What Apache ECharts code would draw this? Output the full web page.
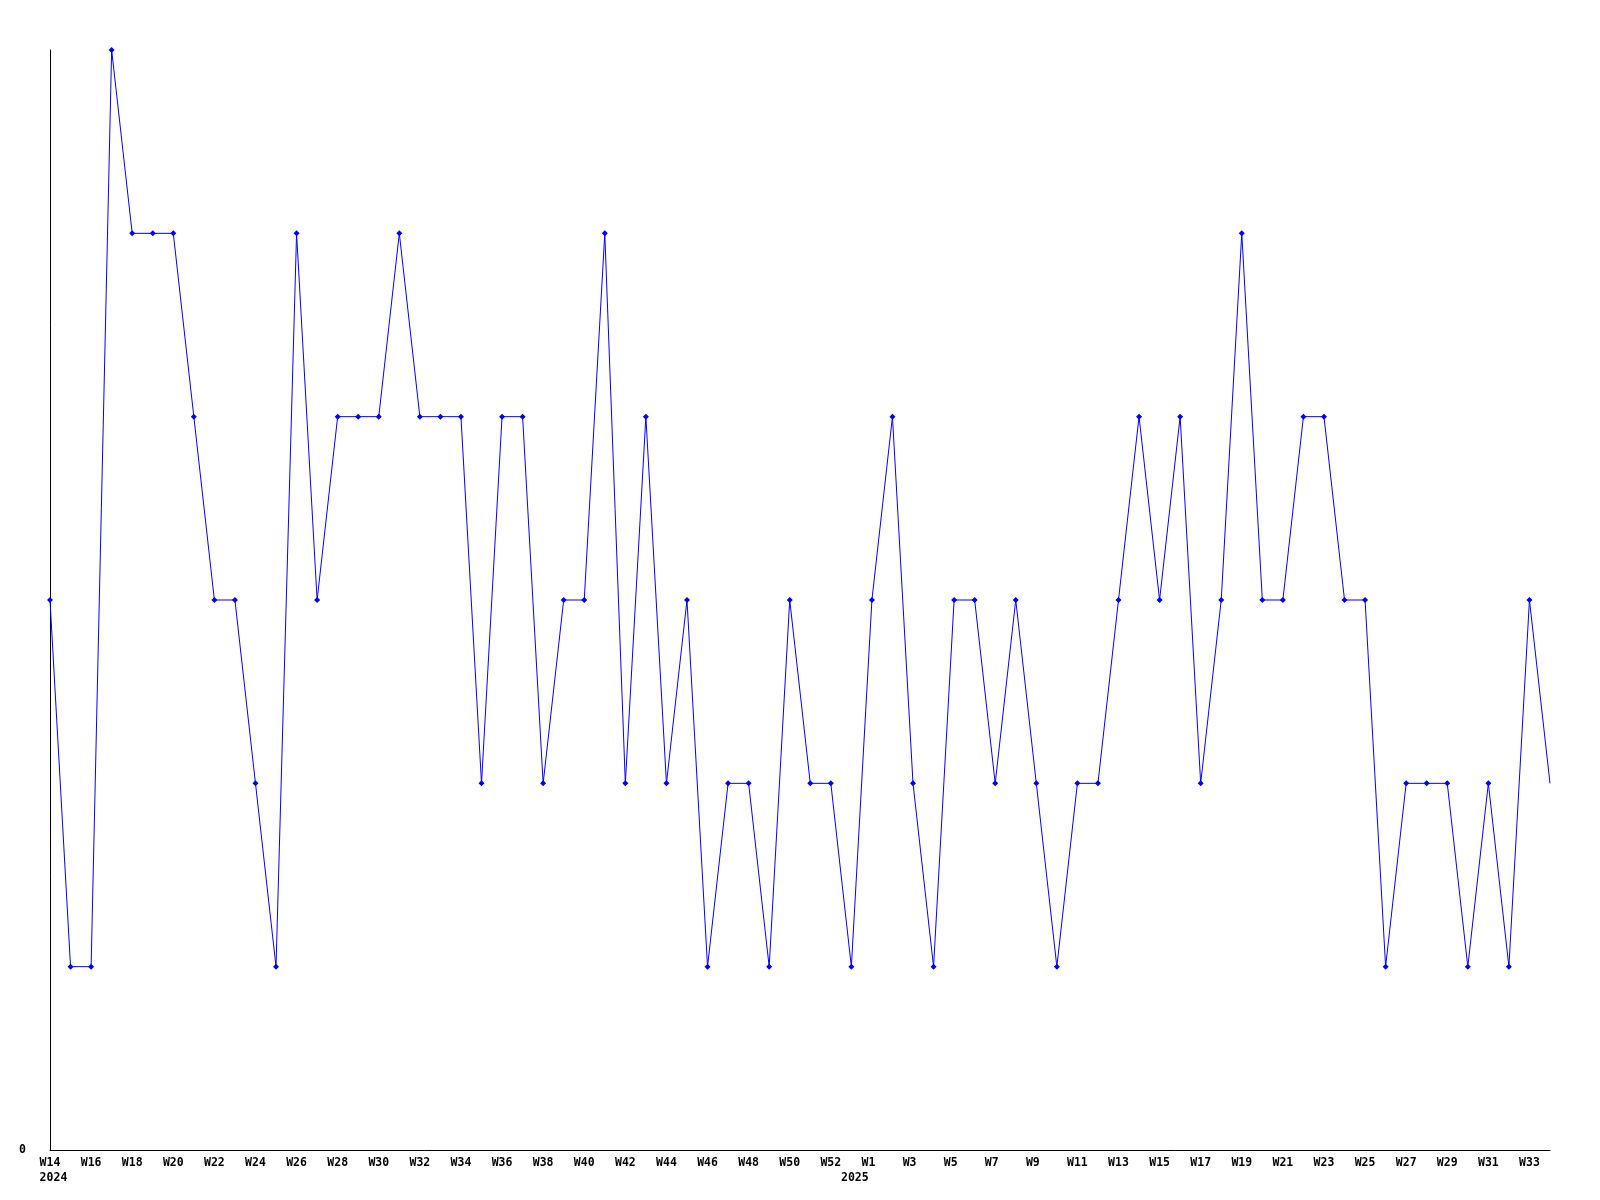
<!DOCTYPE html>
<html>
<head>
<meta charset="utf-8">
<script src="https://cdn.jsdelivr.net/npm/echarts@6/dist/echarts.min.js"></script>
<style>
html,body{margin:0;padding:0;background:#fff;}
#chart{width:1600px;height:1200px;}
</style>
</head>
<body>
<div id="chart"></div>
<script>
// Week categories (W0 of 2025 = Jan 1-4, 2025)
const weeks = [
  'W14','W15','W16','W17','W18','W19','W20','W21','W22','W23','W24','W25','W26','W27','W28','W29','W30',
  'W31','W32','W33','W34','W35','W36','W37','W38','W39','W40','W41','W42','W43','W44','W45','W46','W47',
  'W48','W49','W50','W51','W52',
  'W0','W1','W2','W3','W4','W5','W6','W7','W8','W9','W10','W11','W12','W13','W14','W15','W16','W17',
  'W18','W19','W20','W21','W22','W23','W24','W25','W26','W27','W28','W29','W30','W31','W32','W33','W34'
];
// Year label shown under the first week of each year
const yearStarts = { 0: '2024', 39: '2025' };

const values = [
  3,1,1,6,5,5,5,4,3,3,2,1,5,3,4,4,4,5,4,4,4,2,4,4,2,3,3,5,2,4,2,3,1,2,2,1,3,2,2,
  1,3,4,2,1,3,3,2,3,2,1,2,2,3,4,3,4,2,3,5,3,3,4,4,3,3,1,2,2,2,1,2,1,3,2
];

const yTicks = [0];

function padLeftAlign(s) {
  // monospace: make text start ~1.5 chars left of the tick when centered
  const n = s.length;
  let k = 0, m = 0;
  const diff = n - 3;
  if (diff > 0) k = diff; else m = -diff;
  return ' '.repeat(k) + s + ' '.repeat(m);
}

const chart = echarts.init(document.getElementById('chart'));
const lastIdx = values.length - 1;
const seriesData = values.map((v, i) => i === lastIdx ? { value: v, symbol: 'none' } : v);

chart.setOption({
  animation: false,
  backgroundColor: '#ffffff',
  grid: { left: 50, right: 50, top: 50, bottom: 50, containLabel: false },
  xAxis: {
    type: 'category',
    data: weeks,
    boundaryGap: false,
    axisLine: { show: true, lineStyle: { color: '#000', width: 1 } },
    axisTick: { show: false },
    splitLine: { show: false },
    axisLabel: {
      interval: function (i) { return i % 2 === 0 || yearStarts[i] !== undefined; },
      margin: 6,
      color: '#000',
      fontFamily: 'DejaVu Sans Mono',
      fontWeight: 'bold',
      fontSize: 11.5,
      lineHeight: 15,
      formatter: function (val, i) {
        const top = (i % 2 === 0) ? padLeftAlign(val) : '';
        const yr = yearStarts[i];
        return yr !== undefined ? top + '\n' + padLeftAlign(yr) : top;
      }
    }
  },
  yAxis: {
    type: 'value',
    min: 0,
    max: 6,
    interval: 6,
    axisLine: { show: true, lineStyle: { color: '#000', width: 1 } },
    axisTick: { show: false },
    splitLine: { show: false },
    axisLabel: {
      margin: 24,
      color: '#000',
      fontFamily: 'DejaVu Sans Mono',
      fontWeight: 'bold',
      fontSize: 11.5,
      formatter: function (v) { return yTicks.indexOf(v) >= 0 ? String(v) : ''; }
    }
  },
  series: [{
    type: 'line',
    data: seriesData,
    symbol: 'diamond',
    symbolSize: 6,
    showAllSymbol: true,
    lineStyle: { color: '#0000ff', width: 1 },
    itemStyle: { color: '#0000ff' },
    emphasis: { disabled: true }
  }]
});
</script>
</body>
</html>
